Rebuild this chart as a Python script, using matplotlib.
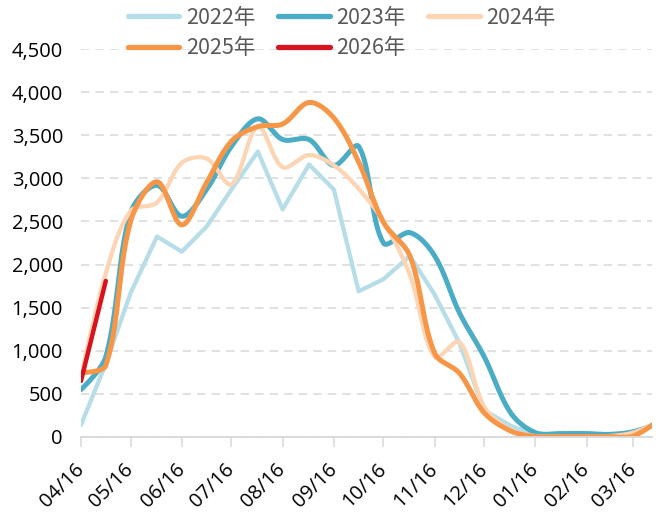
import numpy as np
import pandas as pd
import matplotlib
matplotlib.use("Agg")
import matplotlib.pyplot as plt
import matplotlib.dates as mdates
from matplotlib.ticker import FuncFormatter

plt.rcParams["font.family"] = ["Open Sans", "Noto Sans CJK SC", "DejaVu Sans"]

# half-month points, 04/16 of one year to 04/01 of the next
periods = ["04/16", "05/01", "05/16", "06/01", "06/16", "07/01", "07/16", "08/01",
           "08/16", "09/01", "09/16", "10/01", "10/16", "11/01", "11/16", "12/01",
           "12/16", "01/01", "01/16", "02/01", "02/16", "03/01", "03/16", "04/01"]

y2022 = [140, 850, 1670, 2325, 2150, 2440, 2870, 3310, 2640, 3160, 2870, 1690,
         1830, 2100, 1650, 1090, 310, 130, 20, 20, 20, 20, 60, 150]
y2023 = [550, 930, 2600, 2920, 2560, 2870, 3370, 3690, 3450, 3450, 3150, 3370,
         2250, 2370, 2100, 1440, 930, 280, 50, 40, 40, 30, 60, 160]
y2024 = [700, 1900, 2620, 2720, 3180, 3230, 2930, 3600, 3130, 3270, 3150, 2880,
         2500, 1880, 930, 1100, 350, 80, 10, 10, 10, 10, 50, 180]
y2025 = [750, 830, 2500, 2960, 2460, 2950, 3430, 3600, 3630, 3880, 3700, 3190,
         2490, 2100, 970, 740, 280, 70, 5, 5, 5, 5, 10, 200]
y2026 = [650, 1810]

labels = ["2022年", "2023年", "2024年", "2025年", "2026年"]
colors = ["#B7DEE8", "#4BACC6", "#FCD5B5", "#F79646", "#D7131F"]

# season runs April -> next April
dates = []
year, prev = 2025, 0
for p in periods:
    m = int(p[:2])
    if m < prev:
        year += 1
    prev = m
    dates.append(pd.Timestamp(year, m, int(p[3:])))
xd = mdates.date2num(dates)

PX_DAY, PX_VAL = 1.653, 43 / 500  # screen scale, only for the smoothing weights


def smooth(x, y, n=25):
    # excel-like smoothed line: bezier, tangents weighted by segment length
    x = np.asarray(x, float)
    y = np.asarray(y, float)
    k = len(x)
    seg = np.hypot(np.diff(x) * PX_DAY, np.diff(y) * PX_VAL)
    tx = np.zeros(k)
    ty = np.zeros(k)
    for i in range(1, k - 1):
        tx[i] = x[i + 1] - x[i - 1]
        ty[i] = y[i + 1] - y[i - 1]
    xs, ys = [x[0]], [y[0]]
    t = np.linspace(0, 1, n)[1:]
    for i in range(k - 1):
        f = seg[i] / (seg[i - 1] + seg[i]) / 3 if i > 0 else 0
        c1x, c1y = x[i] + tx[i] * f, y[i] + ty[i] * f
        g = seg[i] / (seg[i] + seg[i + 1]) / 3 if i + 1 < k - 1 else 0
        c2x, c2y = x[i + 1] - tx[i + 1] * g, y[i + 1] - ty[i + 1] * g
        bx = (1 - t) ** 3 * x[i] + 3 * (1 - t) ** 2 * t * c1x + 3 * (1 - t) * t ** 2 * c2x + t ** 3 * x[i + 1]
        by = (1 - t) ** 3 * y[i] + 3 * (1 - t) ** 2 * t * c1y + 3 * (1 - t) * t ** 2 * c2y + t ** 3 * y[i + 1]
        xs.extend(bx)
        ys.extend(by)
    return np.array(xs), np.array(ys)


fig = plt.figure(figsize=(6.56, 5.13), dpi=100)
ax = fig.add_axes([81 / 656, 76 / 513, 571 / 656, 388 / 513])

h = []
h += ax.plot(xd, y2022, color=colors[0], lw=3.1, solid_joinstyle="round", solid_capstyle="round", label=labels[0])
sx, sy = smooth(xd, y2023)
h += ax.plot(sx, sy, color=colors[1], lw=3.6, solid_capstyle="round", label=labels[1])
sx, sy = smooth(xd, y2024)
h += ax.plot(sx, sy, color=colors[2], lw=3.1, solid_capstyle="round", label=labels[2])
sx, sy = smooth(xd, y2025)
h += ax.plot(sx, sy, color=colors[3], lw=3.6, solid_capstyle="round", label=labels[3])
h += ax.plot(xd[:len(y2026)], y2026, color=colors[4], lw=3.2, solid_capstyle="round", label=labels[4])

ax.set_ylim(0, 4500)
ax.set_xlim(xd[0], xd[0] + 345.5)
ax.set_yticks(np.arange(0, 4501, 500))
ax.yaxis.set_major_formatter(FuncFormatter(lambda v, p: f"{v:,.0f}"))
ax.yaxis.grid(True, color="#D9D9D9", lw=1.1, linestyle=(0, (5.5, 4)))
ax.set_axisbelow(True)

ax.xaxis.set_major_locator(mdates.MonthLocator(bymonthday=16))
ax.xaxis.set_major_formatter(mdates.DateFormatter("%m/%d"))

for s in ["top", "right", "left"]:
    ax.spines[s].set_visible(False)
ax.spines["bottom"].set_color("#D9D9D9")
ax.spines["bottom"].set_linewidth(1.3)

ax.tick_params(axis="y", length=0, pad=13, labelsize=14.5, labelcolor="black")
ax.tick_params(axis="x", length=7, width=1.1, color="#D9D9D9", pad=14, labelsize=14.5, labelcolor="black")
for t in ax.get_xticklabels():
    t.set_rotation(45)
    t.set_ha("right")
    t.set_va("center")
    t.set_rotation_mode("anchor")

order = [0, 3, 1, 4, 2]
leg = fig.legend([h[i] for i in order], [labels[i] for i in order], ncol=3,
                 loc="upper left", bbox_to_anchor=(117 / 656, 1 + 4 / 513),
                 frameon=False, borderpad=0, handlelength=2.4, handletextpad=0.3,
                 columnspacing=1.05, labelspacing=0.4,
                 prop={"family": ["Noto Sans CJK SC"], "size": 15.5})
for t in leg.get_texts():
    t.set_color("#595959")
for l in leg.get_lines():
    l.set_linewidth(3.8)

fig.savefig("out.png", dpi=100)
